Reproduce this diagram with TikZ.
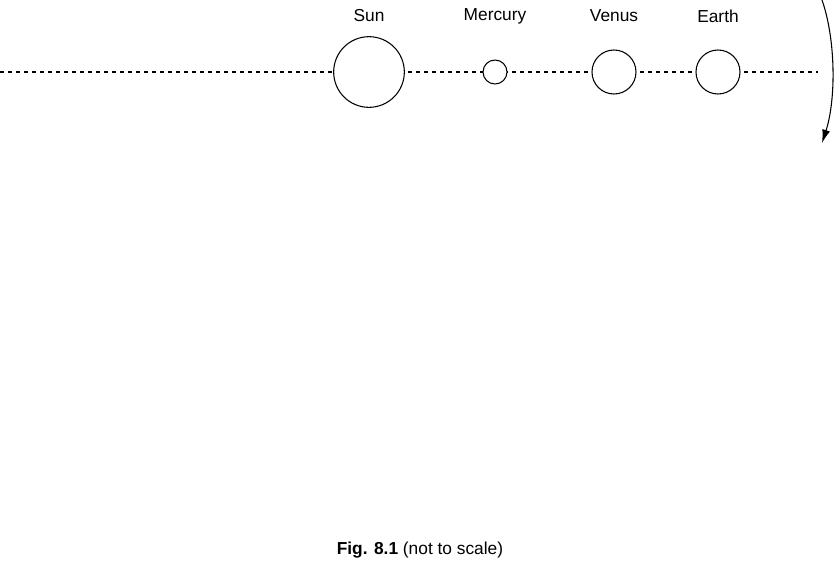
\documentclass[tikz,border=0pt]{standalone}
\usepackage{fontspec}
\setmainfont{Liberation Sans}
\usetikzlibrary{arrows.meta}
\begin{document}
\begin{tikzpicture}[
    x=0.75pt, y=-0.75pt,
    % Styles
    planet/.style={circle, draw, thick, inner sep=0pt},
    lbl/.style={font=\fontsize{13}{15}\selectfont},
    axis/.style={dashed, thick},
    arrow/.style={-{Latex[length=10pt,width=6pt]}, thick}
]
    \useasboundingbox (0,0) rectangle (840,565);

    % --- Axis ---
    \coordinate (left) at (0,72);
    \coordinate (right) at (818,72);
    \draw[axis] (left) -- (right);

    % --- Planets ---
    \node[planet, fill=white, minimum size=53pt] (sun) at (369,72) {};
    \node[planet, fill=white, minimum size=18pt] (mercury) at (495,72) {};
    \node[planet, fill=white, minimum size=33pt] (venus) at (614,72) {};
    \node[planet, fill=white, minimum size=33pt] (earth) at (718,72) {};

    \node[lbl] (sunlbl) at (369,16) {Sun};
    \node[lbl] (mercurylbl) at (495,16) {Mercury};
    \node[lbl] (venuslbl) at (614,16) {Venus};
    \node[lbl] (earthlbl) at (718,16) {Earth};

    % --- Rotation ---
    \coordinate (top) at (822,0);
    \coordinate (bottom) at (822,143);
    \draw[arrow] (top) .. controls (836,40) and (836,100) .. (bottom);

    % Caption
    \node[lbl] (caption) at (420,550) {\textbf{Fig. 8.1} (not to scale)};
\end{tikzpicture}
\end{document}
